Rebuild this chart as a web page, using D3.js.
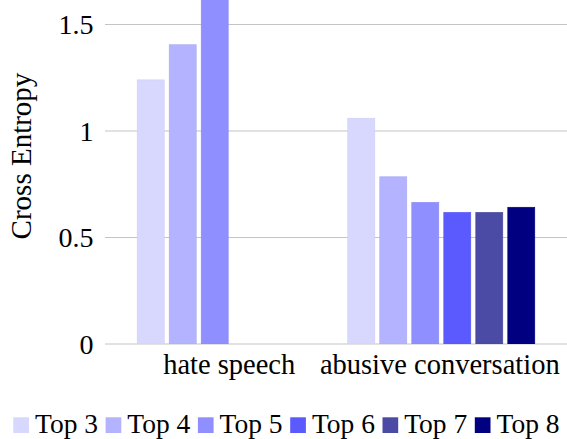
<!DOCTYPE html>
<html><head><meta charset="utf-8">
<script src="https://cdn.jsdelivr.net/npm/d3@7"></script>
<style>body{margin:0;background:#fff}svg{display:block}svg text{font-family:"Liberation Serif","Times New Roman",serif}</style>
</head><body>
<script>
const categories = ["hate speech", "abusive conversation"];
const seriesNames = ["Top 3", "Top 4", "Top 5", "Top 6", "Top 7", "Top 8"];
const seriesColors = ["#d8d8ff", "#b3b3ff", "#8f8fff", "#5a5aff", "#4b4ba6", "#000080"];
const hateSpeech = [1.24, 1.405, 1.72, null, null, null];
const abusiveConversation = [1.06, 0.785, 0.665, 0.618, 0.618, 0.642];
const yTicks = [0, 0.5, 1, 1.5];
const yTickLabels = ["0", "0.5", "1", "1.5"];

const values = [hateSpeech, abusiveConversation];
const W = 567, H = 439;
const mLeft = 105, mRight = 567, mTop = 0, mBottom = 344;

const svg = d3.select("body").append("svg").attr("width", W).attr("height", H);

const x = d3.scalePoint().domain(categories).range([mLeft, mRight]).padding(0.597);
const xs = d3.scaleBand().domain(seriesNames).range([-93.5, 93.5]).paddingInner(5/32).paddingOuter(0);
const y = d3.scaleLinear().domain([0, 1.615]).range([mBottom, mTop]);

// grid
svg.append("g").selectAll("line").data(yTicks).join("line")
  .attr("x1", mLeft).attr("x2", mRight)
  .attr("y1", d => y(d)).attr("y2", d => y(d))
  .attr("stroke", "#c4c4c4").attr("stroke-width", 1);

// y tick labels
svg.append("g").selectAll("text").data(yTicks).join("text")
  .attr("x", 93.5).attr("y", d => y(d)).attr("dy", "0.35em")
  .attr("text-anchor", "end").style("font-size", "28px")
  .text((d, i) => yTickLabels[i]);

// y title
svg.append("text").attr("transform", `translate(31,156) rotate(-90)`)
  .attr("text-anchor", "middle").style("font-size", "29px")
  .text("Cross Entropy");

// clip
svg.append("clipPath").attr("id", "clip").append("rect")
  .attr("x", mLeft).attr("y", mTop).attr("width", mRight - mLeft).attr("height", mBottom - mTop);

const bars = [];
categories.forEach((c, ci) => {
  seriesNames.forEach((s, si) => {
    const v = values[ci][si];
    if (v != null) bars.push({c, s, v, color: seriesColors[si]});
  });
});

svg.append("g").attr("clip-path", "url(#clip)").selectAll("rect").data(bars).join("rect")
  .attr("x", d => x(d.c) + xs(d.s))
  .attr("width", xs.bandwidth())
  .attr("y", d => y(d.v))
  .attr("height", d => y(0) - y(d.v))
  .attr("fill", d => d.color)
  .attr("stroke", d => d3.color(d.color).darker(0.15))
  .attr("stroke-width", 0.6);

// category labels
svg.append("g").selectAll("text").data(categories).join("text")
  .attr("x", d => x(d) - 1.5).attr("y", 374)
  .attr("text-anchor", "middle").style("font-size", "28.5px")
  .text(d => d);

// legend
const lg = svg.append("g");
seriesNames.forEach((s, i) => {
  const lx = 13.3 + i * 92.3;
  lg.append("rect").attr("x", lx).attr("y", 417.3).attr("width", 15.7).attr("height", 15.7)
    .attr("fill", seriesColors[i]);
  lg.append("text").attr("x", lx + 21.7).attr("y", 432.5)
    .style("font-size", "27.5px").text(s);
});
</script>
</body></html>
